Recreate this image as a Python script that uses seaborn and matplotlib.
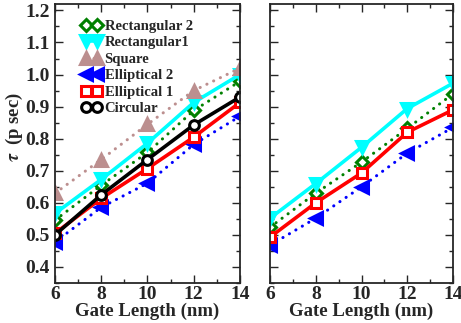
import matplotlib
matplotlib.use("Agg")
import matplotlib.pyplot as plt
import seaborn as sns
import pandas as pd
from matplotlib.ticker import MultipleLocator

sns.set_theme(style="ticks")
plt.rcParams['font.family'] = ['Liberation Serif', 'DejaVu Serif']
plt.rcParams['font.weight'] = 'bold'
plt.rcParams['mathtext.fontset'] = 'stix'

gate = [6, 8, 10, 12, 14]

# panel izquierdo
rect2_a = [0.546, 0.655, 0.757, 0.888, 0.979]
rect1_a = [0.567, 0.673, 0.786, 0.913, 1.000]
square_a = [0.630, 0.735, 0.845, 0.950, 1.020]
ell2_a = [0.478, 0.586, 0.661, 0.782, 0.870]
ell1_a = [0.505, 0.614, 0.707, 0.805, 0.913]
circ_a = [0.500, 0.625, 0.735, 0.843, 0.930]

# panel derecho
rect1_b = [0.552, 0.660, 0.773, 0.894, 0.973]
rect2_b = [0.524, 0.630, 0.727, 0.832, 0.940]
ell1_b = [0.493, 0.600, 0.693, 0.820, 0.890]
ell2_b = [0.468, 0.552, 0.650, 0.755, 0.835]

estilos = {
    'Rectangular 2': dict(color='#008000', marker='D', ls=':', mfc='white', ms=6),
    'Rectangular1': dict(color='#00FFFF', marker='v', ls='-', mfc='#00FFFF', ms=9),
    'Square': dict(color='#BC8F8F', marker='^', ls=':', mfc='#BC8F8F', ms=9),
    'Elliptical 2': dict(color='#0000FF', marker='<', ls=':', mfc='#0000FF', ms=9),
    'Elliptical 1': dict(color='#FF0000', marker='s', ls='-', mfc='white', ms=7),
    'Circular': dict(color='black', marker='o', ls='-', mfc='white', ms=7),
}

panel_a = [('Rectangular 2', rect2_a), ('Rectangular1', rect1_a), ('Square', square_a),
           ('Elliptical 2', ell2_a), ('Elliptical 1', ell1_a), ('Circular', circ_a)]
panel_b = [('Rectangular 2', rect2_b), ('Rectangular1', rect1_b),
           ('Elliptical 2', ell2_b), ('Elliptical 1', ell1_b)]

fig = plt.figure(figsize=(4.61, 3.23), dpi=100)
ax1 = fig.add_axes([0.1193, 0.1238, 0.4013, 0.8638])
ax2 = fig.add_axes([0.5857, 0.1238, 0.3970, 0.8638])

def dibujar(ax, series, leyenda):
    for nombre, vals in series:
        e = estilos[nombre]
        punteada = e['ls'] == ':'
        sns.lineplot(x=gate, y=vals, ax=ax, color=e['color'], marker=e['marker'],
                     markersize=e['ms'], markerfacecolor=e['mfc'],
                     markeredgecolor=e['color'], markeredgewidth=2.2,
                     linewidth=2.2 if punteada else 2.6,
                     label=nombre if leyenda else None, dashes=False)
        ln = ax.lines[-1]
        if punteada:
            ln.set_linestyle((0, (0.05, 2.4)))
            ln.set_dash_capstyle('round')
    ax.set_xlim(6, 14)
    ax.set_ylim(0.35, 1.22)
    ax.xaxis.set_major_locator(MultipleLocator(2))
    ax.xaxis.set_minor_locator(MultipleLocator(1))
    ax.yaxis.set_major_locator(MultipleLocator(0.1))
    ax.yaxis.set_minor_locator(MultipleLocator(0.05))
    ax.tick_params(which='both', direction='in', top=True, right=True, labelsize=14)
    ax.tick_params(which='major', length=6, width=1, pad=4)
    ax.tick_params(axis='x', which='major', pad=2)
    ax.tick_params(which='minor', length=3, width=1)
    for s in ax.spines.values():
        s.set_linewidth(1.3)
    ax.set_xlabel('Gate Length (nm)', fontsize=13.5, fontweight='bold', labelpad=0)
    for lab in ax.get_xticklabels() + ax.get_yticklabels():
        lab.set_fontweight('bold')

dibujar(ax1, panel_a, True)
dibujar(ax2, panel_b, False)
ax1.yaxis.set_major_formatter(plt.FormatStrFormatter('%.1f'))
ax2.set_yticklabels([])
ax1.set_ylabel(r'$\tau$  (p sec)', fontsize=13.5, fontweight='bold')
ax1.yaxis.set_label_coords(-0.16, 0.56)

leg = ax1.legend(loc='upper left', bbox_to_anchor=(0.095, 0.975), frameon=False,
                 numpoints=2, handlelength=1.4, handletextpad=0.2,
                 labelspacing=0.22, borderaxespad=0.2,
                 prop={'family': 'Liberation Serif', 'weight': 'bold', 'size': 10.5})
if ax2.get_legend():
    ax2.get_legend().remove()

fig.savefig('out.png', dpi=100)
